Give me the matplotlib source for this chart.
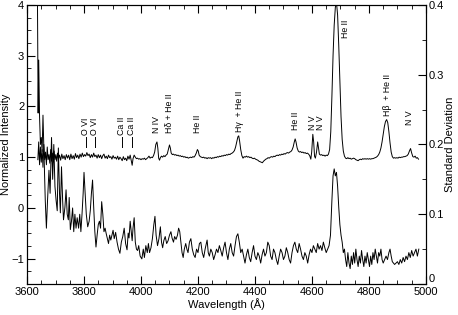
import numpy as np
import matplotlib
matplotlib.use('Agg')
import matplotlib.pyplot as plt
from matplotlib.ticker import MultipleLocator, FuncFormatter

plt.rcParams['font.family'] = ['Liberation Sans', 'DejaVu Sans']

# normalized spectrum (left axis)
wave_norm = [3638, 3641, 3644, 3647, 3650, 3653, 3656, 3659, 3662, 3665, 3668, 3671, 3674, 3677, 3680,
             3683, 3686, 3689, 3692, 3695, 3698, 3701, 3704, 3707, 3710, 3714, 3718, 3722, 3726, 3730,
             3734, 3738, 3742, 3746, 3750, 3754, 3758, 3762, 3766, 3770, 3774, 3778, 3782, 3786, 3790,
             3794, 3798, 3802, 3806, 3810, 3814, 3818, 3822, 3826, 3830, 3834, 3838, 3842, 3846, 3850,
             3854, 3858, 3862, 3866, 3870, 3874, 3878, 3882, 3886, 3890, 3894, 3898, 3902, 3906, 3910,
             3914, 3918, 3922, 3926, 3930, 3934, 3938, 3942, 3946, 3950, 3954, 3958, 3962, 3966, 3969,
             3972, 3976, 3980, 3984, 3988, 3992, 3996, 4000, 4004, 4008, 4012, 4016, 4020, 4024, 4028,
             4032, 4036, 4040, 4044, 4048, 4052, 4056, 4059, 4062, 4065, 4068, 4072, 4076, 4080, 4084,
             4088, 4092, 4096, 4100, 4103, 4106, 4110, 4114, 4118, 4122, 4126, 4130, 4134, 4138, 4142,
             4146, 4150, 4154, 4158, 4162, 4166, 4170, 4174, 4178, 4182, 4186, 4190, 4194, 4198, 4201,
             4204, 4208, 4212, 4216, 4220, 4224, 4228, 4232, 4236, 4240, 4244, 4248, 4252, 4256, 4260,
             4264, 4268, 4272, 4276, 4280, 4284, 4288, 4292, 4296, 4300, 4304, 4308, 4312, 4316, 4320,
             4324, 4328, 4332, 4336, 4340, 4343, 4346, 4350, 4354, 4358, 4362, 4366, 4370, 4374, 4378,
             4382, 4386, 4390, 4394, 4398, 4402, 4406, 4410, 4414, 4418, 4422, 4426, 4430, 4434, 4438,
             4442, 4446, 4450, 4454, 4458, 4462, 4466, 4470, 4474, 4478, 4482, 4486, 4490, 4494, 4498,
             4502, 4506, 4510, 4514, 4518, 4522, 4526, 4530, 4534, 4538, 4541, 4544, 4548, 4552, 4556,
             4560, 4564, 4568, 4572, 4576, 4580, 4584, 4588, 4592, 4596, 4599, 4603, 4606, 4609, 4612,
             4616, 4620, 4623, 4626, 4630, 4634, 4638, 4642, 4646, 4650, 4654, 4658, 4662, 4666, 4670,
             4674, 4678, 4682, 4686, 4690, 4694, 4698, 4702, 4706, 4710, 4714, 4718, 4722, 4726, 4730,
             4734, 4738, 4742, 4746, 4750, 4754, 4758, 4762, 4766, 4770, 4774, 4778, 4782, 4786, 4790,
             4794, 4798, 4802, 4806, 4810, 4814, 4818, 4822, 4826, 4830, 4834, 4838, 4842, 4846, 4850,
             4854, 4858, 4862, 4866, 4870, 4874, 4878, 4882, 4886, 4890, 4894, 4898, 4902, 4906, 4910,
             4914, 4918, 4922, 4926, 4930, 4934, 4938, 4942, 4946, 4950, 4954, 4958, 4962, 4966, 4970,
             4974]
flux_norm = [0.95, 1.30, 0.85, 1.20, 0.90, 1.15, 0.80, 1.25, 0.95, 1.10, 0.85, 1.20, 0.95, 1.05, 0.88,
             1.15, 0.92, 1.08, 0.90, 1.12, 0.95, 1.05, 0.92, 1.08, 0.96, 1.04, 0.94, 1.06, 0.97, 1.03,
             0.95, 1.05, 0.98, 1.04, 0.95, 1.06, 0.97, 1.03, 0.96, 1.07, 0.99, 1.04, 0.97, 1.06, 1.00,
             1.08, 1.01, 1.05, 1.02, 1.09, 1.03, 1.06, 0.99, 1.05, 1.00, 1.08, 1.01, 1.04, 0.98, 1.05,
             0.99, 1.04, 0.97, 1.03, 1.06, 0.98, 1.02, 0.97, 1.04, 0.99, 1.01, 0.96, 1.03, 0.98, 1.00,
             0.96, 1.02, 0.95, 1.00, 0.97, 0.93, 1.01, 0.95, 0.98, 0.93, 1.02, 0.96, 1.04, 0.92, 0.84,
             0.97, 1.04, 1.00, 0.97, 0.98, 0.96, 0.97, 0.95, 0.97, 0.96, 0.98, 0.95, 0.97, 0.99, 1.02,
             0.98, 1.00, 0.99, 1.03, 1.10, 1.25, 1.30, 1.18, 0.98, 0.94, 0.99, 1.02, 1.00, 1.03, 1.01,
             1.04, 1.06, 1.15, 1.24, 1.18, 1.08, 1.05, 1.06, 1.04, 1.05, 1.03, 1.04, 1.02, 1.03, 1.01,
             1.02, 1.00, 1.01, 0.99, 1.00, 0.98, 0.99, 1.00, 0.99, 1.01, 1.00, 1.03, 1.08, 1.15, 1.12,
             1.04, 1.01, 1.00, 0.99, 1.00, 0.98, 0.99, 0.97, 0.99, 0.98, 0.99, 0.97, 0.99, 0.98, 1.00,
             0.99, 1.01, 1.00, 1.02, 1.01, 1.03, 1.02, 1.04, 1.03, 1.05, 1.04, 1.06, 1.05, 1.07, 1.08,
             1.10, 1.13, 1.20, 1.30, 1.40, 1.42, 1.32, 1.15, 1.03, 0.98, 1.01, 1.00, 1.02, 1.00, 1.01,
             0.99, 1.00, 0.98, 0.97, 0.98, 0.96, 0.95, 0.94, 0.92, 0.91, 0.90, 0.89, 0.92, 0.94, 0.96,
             0.97, 0.99, 0.98, 1.00, 1.01, 1.00, 1.02, 1.01, 1.03, 1.04, 1.03, 1.05, 1.04, 1.06, 1.05,
             1.07, 1.06, 1.08, 1.09, 1.08, 1.10, 1.11, 1.14, 1.20, 1.30, 1.36, 1.30, 1.18, 1.12, 1.10,
             1.11, 1.09, 1.10, 1.08, 1.09, 1.07, 1.08, 1.06, 1.03, 0.96, 1.10, 1.45, 1.30, 1.02, 0.98,
             1.10, 1.30, 1.18, 1.06, 1.04, 1.05, 1.03, 1.04, 1.02, 1.04, 1.03, 1.06, 1.15, 1.50, 2.20,
             3.00, 3.60, 3.95, 4.05, 3.80, 3.20, 2.50, 1.80, 1.35, 1.12, 1.02, 0.98, 0.97, 0.99, 0.97,
             0.98, 0.96, 0.97, 0.98, 0.97, 0.95, 0.94, 0.93, 0.95, 0.96, 0.95, 0.97, 0.96, 0.97, 0.96,
             0.97, 0.96, 0.97, 0.96, 0.97, 0.97, 0.98, 0.99, 1.00, 1.02, 1.05, 1.10, 1.18, 1.30, 1.45,
             1.60, 1.70, 1.74, 1.68, 1.50, 1.28, 1.10, 1.01, 0.98, 0.99, 0.98, 0.99, 0.98, 1.00, 0.99,
             1.00, 1.00, 1.01, 1.01, 1.02, 1.03, 1.06, 1.12, 1.17, 1.08, 1.01, 1.00, 1.02, 0.98, 0.99,
             0.96]

# standard deviation spectrum (right axis)
wave_sd = [3636, 3639, 3641, 3644, 3647, 3650, 3653, 3656, 3660, 3664, 3668, 3672, 3677, 3681, 3686,
           3690, 3694, 3698, 3702, 3706, 3710, 3714, 3717, 3721, 3725, 3728, 3733, 3737, 3741, 3745,
           3748, 3752, 3756, 3760, 3764, 3768, 3772, 3776, 3781, 3785, 3789, 3793, 3797, 3800, 3804,
           3808, 3813, 3818, 3822, 3826, 3830, 3834, 3838, 3842, 3846, 3850, 3854, 3858, 3862, 3866,
           3870, 3874, 3878, 3882, 3886, 3890, 3894, 3898, 3902, 3906, 3911, 3916, 3921, 3926, 3931,
           3936, 3941, 3946, 3951, 3955, 3958, 3962, 3965, 3969, 3972, 3976, 3980, 3984, 3988, 3992,
           3997, 4003, 4008, 4012, 4017, 4022, 4026, 4030, 4035, 4040, 4045, 4049, 4053, 4058, 4063,
           4068, 4072, 4076, 4080, 4085, 4090, 4095, 4100, 4105, 4109, 4114, 4118, 4123, 4128, 4132,
           4136, 4140, 4144, 4148, 4152, 4157, 4161, 4165, 4170, 4175, 4180, 4185, 4190, 4195, 4200,
           4205, 4210, 4215, 4220, 4225, 4232, 4236, 4240, 4245, 4250, 4255, 4260, 4265, 4270, 4275,
           4280, 4285, 4290, 4295, 4300, 4305, 4310, 4315, 4320, 4325, 4330, 4335, 4340, 4345, 4350,
           4355, 4360, 4365, 4370, 4375, 4380, 4385, 4390, 4395, 4400, 4405, 4410, 4415, 4420, 4425,
           4430, 4435, 4440, 4445, 4450, 4455, 4460, 4465, 4470, 4475, 4480, 4485, 4490, 4495, 4500,
           4505, 4510, 4515, 4520, 4525, 4530, 4535, 4540, 4545, 4550, 4555, 4560, 4565, 4570, 4575,
           4580, 4585, 4590, 4595, 4600, 4605, 4610, 4615, 4620, 4625, 4630, 4635, 4640, 4645, 4650,
           4655, 4660, 4665, 4670, 4674, 4678, 4682, 4686, 4690, 4694, 4698, 4702, 4706, 4710, 4714,
           4718, 4722, 4726, 4730, 4734, 4738, 4742, 4746, 4750, 4754, 4758, 4762, 4766, 4770, 4774,
           4778, 4782, 4786, 4790, 4794, 4798, 4802, 4806, 4810, 4814, 4818, 4822, 4826, 4830, 4834,
           4838, 4842, 4846, 4850, 4855, 4860, 4865, 4870, 4874, 4878, 4882, 4886, 4890, 4895, 4900,
           4905, 4910, 4915, 4920, 4925, 4930, 4935, 4940, 4945, 4950, 4955, 4960, 4965, 4970, 4975]
sd = [0.450, 0.245, 0.321, 0.240, 0.200, 0.210, 0.190, 0.242, 0.180, 0.120, 0.080, 0.120, 0.163, 0.130, 0.210,
      0.150, 0.200, 0.140, 0.120, 0.105, 0.195, 0.130, 0.102, 0.168, 0.120, 0.092, 0.110, 0.135, 0.100, 0.092,
      0.124, 0.078, 0.090, 0.109, 0.075, 0.100, 0.080, 0.095, 0.080, 0.100, 0.075, 0.100, 0.130, 0.160, 0.130,
      0.100, 0.082, 0.090, 0.105, 0.130, 0.149, 0.110, 0.075, 0.053, 0.070, 0.085, 0.090, 0.080, 0.118, 0.100,
      0.075, 0.080, 0.072, 0.065, 0.058, 0.070, 0.063, 0.070, 0.077, 0.065, 0.074, 0.060, 0.050, 0.044, 0.060,
      0.068, 0.080, 0.058, 0.049, 0.073, 0.066, 0.090, 0.078, 0.062, 0.080, 0.095, 0.060, 0.050, 0.048, 0.055,
      0.040, 0.036, 0.050, 0.038, 0.055, 0.045, 0.058, 0.045, 0.052, 0.065, 0.085, 0.097, 0.070, 0.055, 0.065,
      0.082, 0.060, 0.052, 0.062, 0.068, 0.058, 0.062, 0.070, 0.075, 0.066, 0.060, 0.068, 0.064, 0.070, 0.080,
      0.075, 0.060, 0.045, 0.038, 0.050, 0.058, 0.050, 0.045, 0.060, 0.065, 0.050, 0.042, 0.038, 0.050, 0.045,
      0.058, 0.060, 0.045, 0.038, 0.050, 0.063, 0.045, 0.040, 0.050, 0.045, 0.035, 0.042, 0.050, 0.045, 0.055,
      0.048, 0.040, 0.052, 0.060, 0.045, 0.035, 0.050, 0.058, 0.045, 0.040, 0.055, 0.068, 0.072, 0.060, 0.045,
      0.050, 0.040, 0.030, 0.042, 0.050, 0.038, 0.032, 0.045, 0.055, 0.040, 0.035, 0.045, 0.040, 0.030, 0.042,
      0.050, 0.040, 0.045, 0.060, 0.055, 0.040, 0.035, 0.050, 0.045, 0.035, 0.028, 0.040, 0.050, 0.045, 0.035,
      0.040, 0.052, 0.045, 0.035, 0.030, 0.045, 0.055, 0.060, 0.050, 0.045, 0.058, 0.050, 0.040, 0.035, 0.045,
      0.040, 0.030, 0.042, 0.050, 0.045, 0.055, 0.050, 0.045, 0.058, 0.050, 0.055, 0.048, 0.060, 0.052, 0.045,
      0.050, 0.055, 0.070, 0.120, 0.155, 0.165, 0.155, 0.160, 0.140, 0.110, 0.085, 0.070, 0.060, 0.045, 0.050,
      0.035, 0.025, 0.045, 0.030, 0.022, 0.040, 0.028, 0.045, 0.030, 0.050, 0.035, 0.025, 0.040, 0.030, 0.048,
      0.035, 0.025, 0.040, 0.030, 0.045, 0.035, 0.025, 0.040, 0.028, 0.045, 0.035, 0.050, 0.040, 0.030, 0.045,
      0.040, 0.050, 0.035, 0.030, 0.035, 0.040, 0.035, 0.045, 0.050, 0.040, 0.032, 0.030, 0.028, 0.030, 0.032,
      0.028, 0.035, 0.030, 0.038, 0.032, 0.040, 0.035, 0.045, 0.038, 0.048, 0.040, 0.045, 0.050, 0.040, 0.050]

# line identifications: (wavelength, label, label base in normalized units)
line_wave = [3806, 3837, 3932, 3967, 4056, 4101, 4200, 4345, 4541, 4603, 4631, 4719, 4866, 4944]
line_text = ['O VI', 'O VI', 'Ca II', 'Ca II', 'N IV', 'H\u03b4 + He II', 'He II',
             'H\u03b3  + He II', 'He II', 'N V', 'N V', 'He II', 'H\u03b2  + He II', 'N V']
line_base = [1.43, 1.43, 1.43, 1.43, 1.47, 1.47, 1.47, 1.50, 1.53, 1.53, 1.53, 3.35, 1.82, 1.63]
marked = [True, True, True, True] + [False] * 10

fig = plt.figure(figsize=(4.58, 3.15), dpi=100)
ax = fig.add_axes([0.059, 0.0984, 0.871, 0.886])
ax2 = ax.twinx()

ax.plot(wave_norm, flux_norm, color='black', lw=0.7)
ax2.plot(wave_sd, sd, color='black', lw=0.7)

for w, t, b, m in zip(line_wave, line_text, line_base, marked):
    ax.text(w, b, t, rotation=90, ha='center', va='bottom', fontsize=6.3)
    if m:
        ax.plot([w, w], [1.20, 1.39], color='black', lw=0.7)

ax.set_xlim(3600, 5000)
ax.set_ylim(-1.5, 4)
ax2.set_ylim(0, 0.4)

ax.xaxis.set_major_locator(MultipleLocator(200))
ax.xaxis.set_minor_locator(MultipleLocator(50))
ax.yaxis.set_major_locator(MultipleLocator(1))
ax.yaxis.set_minor_locator(MultipleLocator(0.25))
ax2.yaxis.set_major_locator(MultipleLocator(0.1))
ax2.yaxis.set_minor_locator(MultipleLocator(0.05))
ax2.yaxis.set_major_formatter(FuncFormatter(lambda v, p: '0' if abs(v) < 1e-9 else f'{v:.1f}'))

ax.tick_params(which='both', direction='in', top=True, labelsize=8, pad=2)
ax.tick_params(which='major', length=6)
ax.tick_params(which='minor', length=3)
ax2.tick_params(which='both', direction='in', labelsize=8, pad=2)
ax2.tick_params(which='major', length=6)
ax2.tick_params(which='minor', length=3)

ax.set_xlabel('Wavelength (\u00c5)', fontsize=8, labelpad=1)
ax.set_ylabel('Normalized Intensity', fontsize=8, labelpad=0)
ax2.set_ylabel('Standard Deviation', fontsize=8, labelpad=1)

# the "0" of the right axis sits a little higher, above the 5000 label
fig.canvas.draw()
for lab in ax2.get_yticklabels():
    if lab.get_text() == '0':
        lab.set_verticalalignment('bottom')

fig.savefig('out.png', dpi=100)
